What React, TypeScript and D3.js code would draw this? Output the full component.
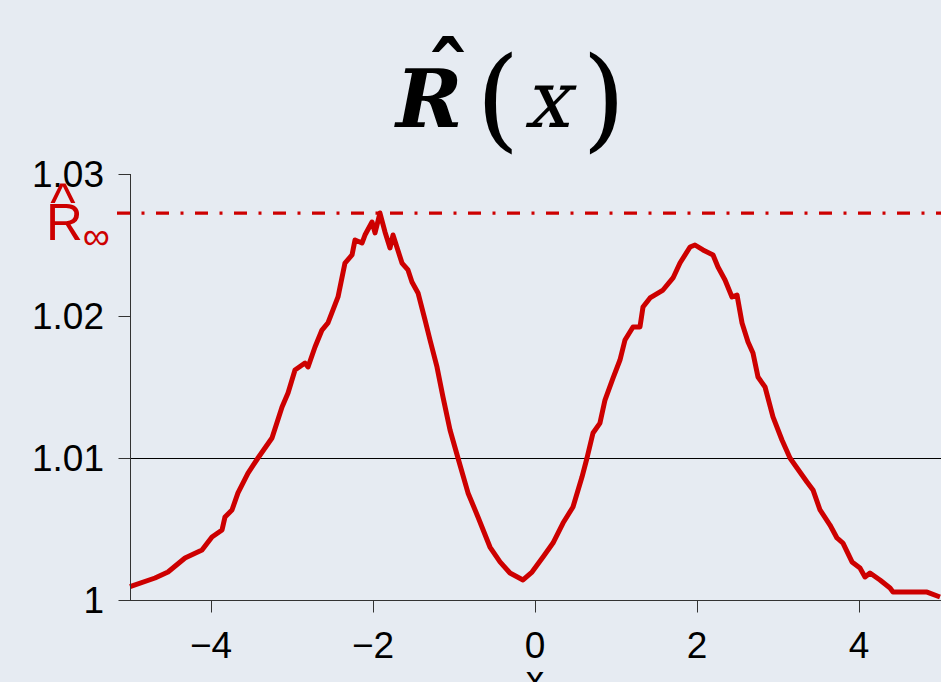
import React from "react";
import * as d3 from "d3";

// values
const xs = [
  -5.0, -4.691, -4.531, -4.321, -4.111, -3.988, -3.864, -3.827, -3.741, -3.667,
  -3.543, -3.42, -3.247, -3.123, -3.049, -2.963, -2.84, -2.802, -2.716, -2.63,
  -2.556, -2.432, -2.346, -2.259, -2.222, -2.136, -2.099, -2.012, -1.975, -1.914,
  -1.852, -1.79, -1.753, -1.642, -1.568, -1.519, -1.444, -1.358, -1.296, -1.21,
  -1.136, -1.049, -0.951, -0.827, -0.704, -0.556, -0.432, -0.309, -0.148, -0.037,
  0.099, 0.222, 0.346, 0.469, 0.58, 0.642, 0.716, 0.802, 0.864, 0.963,
  1.049, 1.111, 1.21, 1.296, 1.333, 1.42, 1.58, 1.704, 1.79, 1.914,
  1.975, 2.074, 2.198, 2.259, 2.346, 2.432, 2.494, 2.556, 2.63, 2.691,
  2.753, 2.84, 2.938, 3.049, 3.148, 3.235, 3.358, 3.432, 3.519, 3.642,
  3.728, 3.802, 3.914, 4.012, 4.074, 4.136, 4.259, 4.383, 4.42, 4.84, 5.0,
];
const rs = [
  1.00094, 1.00155, 1.00197, 1.00296, 1.00352, 1.00444, 1.00493, 1.00585, 1.00634, 1.00754,
  1.00894, 1.01, 1.01141, 1.01359, 1.01458, 1.0162, 1.01669, 1.01641, 1.01782, 1.01901,
  1.01951, 1.02134, 1.02373, 1.0243, 1.02535, 1.02514, 1.0257, 1.02662, 1.02585, 1.02725,
  1.02592, 1.02479, 1.0257, 1.02373, 1.02324, 1.02239, 1.02162, 1.01972, 1.01831, 1.01641,
  1.0143, 1.01197, 1.01, 1.00754, 1.00585, 1.00373, 1.00268, 1.0019, 1.00141, 1.00197,
  1.00303, 1.00401, 1.00542, 1.00655, 1.00866, 1.01, 1.01176, 1.01246, 1.01408, 1.01563,
  1.0169, 1.01831, 1.01923, 1.01923, 1.02063, 1.02127, 1.02183, 1.02268, 1.02373, 1.02486,
  1.025, 1.02465, 1.0243, 1.02345, 1.02254, 1.02134, 1.02148, 1.01951, 1.01817, 1.01739,
  1.0157, 1.015, 1.01289, 1.01127, 1.01, 1.0093, 1.00831, 1.00775, 1.00634, 1.00528,
  1.00437, 1.00401, 1.00268, 1.00225, 1.00162, 1.0019, 1.00141, 1.00085, 1.00056, 1.00056, 1.00021,
];
const xTicks = [-4, -2, 0, 2, 4];
const yTicks = [1, 1.01, 1.02, 1.03];
const yTickLabels = ["1", "1.01", "1.02", "1.03"];
const refLevel = 1.01;
const rInf = 1.02725;

const RED = "#cd0000";
const BG = "#e6ebf2";
const SANS = "'Liberation Sans', Arial, Helvetica, sans-serif";
const SERIF = "'DejaVu Serif', 'Liberation Serif', serif";

export default function App() {
  const width = 941;
  const height = 682;

  const x = d3.scaleLinear().domain([-5, 5]).range([130, 940]);
  const y = d3.scaleLinear().domain([1, 1.03]).range([600, 174]);

  const line = d3
    .line<number>()
    .x((d, i) => x(xs[i]))
    .y((d) => y(d))
    .curve(d3.curveLinear);

  const tick = 12;
  const x0 = Math.round(x(-5)) + 0.5;
  const yBase = Math.round(y(1)) + 0.5;

  return (
    <svg
      width={width}
      height={height}
      style={{ position: "absolute", left: 0, top: 0, background: BG }}
    >
      <rect x={0} y={0} width={width} height={height} fill={BG} />

      {/* title */}
      <g fill="#000" fontFamily={SERIF}>
        <text x={396} y={127} fontSize={80} fontWeight="bold" fontStyle="italic">R</text>
        <text x={476} y={137} fontSize={112}>(</text>
        <text transform="translate(524,127) skewX(-14)" fontSize={80}>x</text>
        <text x={582} y={137} fontSize={112}>)</text>
        <text x={448} y={106} fontSize={88} fontWeight="bold" textAnchor="middle">ˆ</text>
      </g>

      {/* reference line at 1.01 */}
      <line x1={x(-5)} x2={width} y1={Math.round(y(refLevel)) + 0.5} y2={Math.round(y(refLevel)) + 0.5} stroke="#000" strokeWidth={1} />

      {/* R-infinity dash-dot */}
      <line
        x1={117}
        x2={width}
        y1={y(rInf)}
        y2={y(rInf)}
        stroke={RED}
        strokeWidth={3.2}
        strokeDasharray="13,11.5,3,11.5"
      />

      {/* curve */}
      <path d={line(rs) || ""} fill="none" stroke={RED} strokeWidth={5} strokeLinejoin="round" />

      {/* y axis */}
      <line x1={x0} x2={x0} y1={y(1.03)} y2={yBase} stroke="#333" strokeWidth={1} />
      {yTicks.map((t, i) => (
        <g key={t}>
          <line x1={x0 - tick} x2={x0} y1={Math.round(y(t)) + 0.5} y2={Math.round(y(t)) + 0.5} stroke="#333" strokeWidth={1} />
          <text
            x={104}
            y={y(t)}
            dy="0.36em"
            textAnchor="end"
            fontFamily={SANS}
            fontSize={37}
            fill="#000"
          >
            {yTickLabels[i]}
          </text>
        </g>
      ))}

      {/* R-infinity label */}
      <text x={63} y={221} textAnchor="middle" fontFamily={SANS} fontSize={54} fill={RED}>
        ^
      </text>
      <text x={46} y={240} fontFamily={SANS} fontSize={51} fill={RED}>
        R<tspan fontSize={38} dy={9}>∞</tspan>
      </text>

      {/* x axis */}
      <line x1={119} x2={width} y1={yBase} y2={yBase} stroke="#333" strokeWidth={1} />
      {xTicks.map((t) => (
        <g key={t}>
          <line x1={Math.round(x(t)) + 0.5} x2={Math.round(x(t)) + 0.5} y1={yBase} y2={yBase + tick} stroke="#333" strokeWidth={1} />
          <text x={x(t)} y={658} textAnchor="middle" fontFamily={SANS} fontSize={37} fill="#000">
            {t < 0 ? "\u2212" + Math.abs(t) : String(t)}
          </text>
        </g>
      ))}
      <text x={x(0)} y={692} textAnchor="middle" fontFamily={SANS} fontSize={37} fill="#000">
        x
      </text>
    </svg>
  );
}
